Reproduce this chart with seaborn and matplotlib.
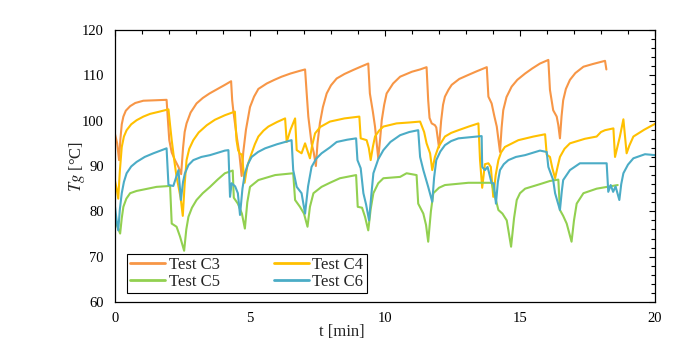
import pandas as pd
import seaborn as sns
import matplotlib.pyplot as plt
from matplotlib.ticker import MultipleLocator

# (t [min], Tg [°C])
c3_pts = [(0, 97), (0.08, 95), (0.15, 91.3), (0.2, 96), (0.25, 99.2), (0.31, 100.9), (0.4, 102.2),
          (0.56, 103.2), (0.75, 103.9), (1.05, 104.4), (1.5, 104.5), (1.91, 104.6), (1.95, 101),
          (2.01, 95.7), (2.1, 93), (2.22, 91.3), (2.35, 89.8), (2.45, 88.2), (2.52, 94), (2.58, 97.5),
          (2.65, 99.4), (2.8, 101.8), (3.02, 103.8), (3.25, 105), (3.5, 106), (3.8, 107), (4.07, 107.9),
          (4.3, 108.7), (4.34, 104.5), (4.38, 102.3), (4.5, 96.8), (4.6, 93), (4.69, 87.8), (4.75, 93),
          (4.85, 98), (5.0, 103), (5.15, 105.3), (5.31, 107), (5.62, 108.2), (5.9, 109), (6.17, 109.7),
          (6.5, 110.4), (6.85, 111), (7.04, 111.3), (7.1, 106), (7.16, 100.9), (7.28, 95), (7.36, 93),
          (7.44, 90), (7.5, 95), (7.59, 99.5), (7.7, 103), (7.84, 106), (8.0, 107.8), (8.21, 109.3),
          (8.5, 110.3), (8.83, 111.2), (9.1, 111.9), (9.38, 112.6), (9.44, 106), (9.55, 102),
          (9.63, 98.7), (9.75, 91.7), (9.82, 96), (9.88, 100.1), (9.97, 103.5), (10.06, 106),
          (10.3, 108.2), (10.56, 109.7), (11.0, 110.8), (11.3, 111.3), (11.54, 111.8), (11.6, 104.5),
          (11.65, 100.6), (11.73, 99.4), (11.85, 99), (11.9, 98.5), (12.0, 94.1), (12.08, 100),
          (12.15, 103.5), (12.22, 105.3), (12.35, 106.8), (12.47, 107.9), (12.75, 109.2), (13.09, 110.1),
          (13.4, 110.9), (13.77, 111.8), (13.83, 105.3), (13.95, 103.8), (14.05, 101), (14.14, 98.7),
          (14.26, 93.1), (14.32, 98.5), (14.38, 102.3), (14.5, 105.2), (14.69, 107.5), (14.9, 109),
          (15.19, 110.4), (15.45, 111.5), (15.74, 112.6), (16.05, 113.4), (16.11, 106.8), (16.23, 102.3),
          (16.36, 100.9), (16.42, 99), (16.48, 96.1), (16.54, 101), (16.6, 104.5), (16.7, 107),
          (16.85, 109), (17.05, 110.5), (17.35, 111.9), (17.7, 112.5), (18.15, 113.2), (18.2, 111.3)]

c4_pts = [(0, 86.7), (0.06, 85), (0.12, 82.8), (0.18, 89), (0.25, 94.2), (0.33, 96.5), (0.43, 97.9),
          (0.6, 99.2), (0.8, 100.1), (1.05, 100.9), (1.3, 101.5), (1.65, 102), (1.98, 102.5), (2.04, 99),
          (2.1, 95.7), (2.2, 91), (2.28, 87.6), (2.35, 85.5), (2.43, 83), (2.51, 79.0), (2.58, 86),
          (2.65, 91.3), (2.75, 93.8), (2.9, 95.7), (3.1, 97.4), (3.4, 99), (3.7, 100.2), (4.07, 101.2),
          (4.44, 102), (4.5, 95.7), (4.56, 93.5), (4.63, 92.6), (4.7, 92.6), (4.8, 86.3), (4.9, 90),
          (5.06, 92.8), (5.18, 94.8), (5.31, 96.5), (5.5, 97.8), (5.68, 98.7), (6.0, 99.7), (6.3, 100.5),
          (6.36, 95.3), (6.5, 98), (6.67, 100.5), (6.73, 93.5), (6.91, 92.8), (7.04, 95), (7.22, 91.7),
          (7.3, 94.5), (7.41, 97.2), (7.6, 98.6), (7.96, 99.8), (8.5, 100.5), (9.05, 100.9), (9.1, 96.1),
          (9.32, 95.7), (9.4, 94), (9.47, 91.3), (9.55, 94.2), (9.63, 96.5), (9.78, 97.8), (9.94, 98.7),
          (10.43, 99.4), (10.9, 99.6), (11.3, 99.8), (11.45, 97.5), (11.54, 95), (11.67, 92.8),
          (11.75, 89.1), (11.85, 92), (11.98, 94.2), (12.22, 96.5), (12.45, 97.3), (12.72, 97.9),
          (13.1, 98.7), (13.46, 99.4), (13.52, 91.3), (13.6, 85.2), (13.7, 90.4), (13.83, 90.6),
          (13.92, 89.8), (14.01, 83.2), (14.1, 88), (14.2, 91.3), (14.3, 93), (14.44, 94.2),
          (14.94, 95.7), (15.5, 96.5), (15.93, 97), (15.99, 92.5), (16.11, 92), (16.2, 89.5),
          (16.3, 87.3), (16.4, 90), (16.48, 92), (16.65, 93.8), (16.85, 95), (17.4, 96), (17.84, 96.5),
          (18.0, 97.5), (18.15, 97.9), (18.46, 98.3), (18.52, 92), (18.7, 96.5), (18.83, 100.3),
          (18.95, 92.8), (19.05, 94.5), (19.2, 96.5), (19.6, 98), (20.0, 99.3)]

c5_pts = [(0, 78), (0.1, 76.5), (0.19, 75.1), (0.25, 78.5), (0.31, 81), (0.42, 82.8), (0.56, 84),
          (0.8, 84.5), (1.05, 84.8), (1.54, 85.4), (2.04, 85.6), (2.1, 77.3), (2.28, 76.6), (2.41, 74.4),
          (2.56, 71.3), (2.64, 76), (2.72, 78.8), (2.85, 80.8), (3.02, 82.5), (3.25, 84), (3.52, 85.4),
          (3.8, 87), (4.07, 88.4), (4.36, 89), (4.4, 83), (4.55, 81.7), (4.7, 79.5), (4.81, 76.2),
          (4.9, 82), (5.0, 85.4), (5.31, 86.9), (5.93, 88), (6.6, 88.4), (6.67, 82.5), (6.85, 81),
          (7.0, 79.5), (7.13, 76.6), (7.22, 81), (7.35, 84), (7.65, 85.4), (7.96, 86.3), (8.33, 87.3),
          (8.93, 88), (8.99, 81), (9.15, 80.8), (9.26, 78.8), (9.38, 75.8), (9.47, 80.5), (9.57, 84),
          (9.75, 86.2), (9.94, 87.3), (10.56, 87.6), (10.8, 88.4), (11.17, 88), (11.23, 81.7),
          (11.42, 79.5), (11.52, 77), (11.6, 73.3), (11.7, 80), (11.79, 84), (12.0, 85.2), (12.22, 85.8),
          (13.09, 86.3), (13.95, 86.3), (14.2, 80.3), (14.35, 79.5), (14.51, 78), (14.67, 72.2),
          (14.78, 78.5), (14.88, 82.5), (15.0, 84), (15.19, 85), (15.74, 86), (16.11, 86.7), (16.42, 87),
          (16.48, 80.3), (16.6, 79), (16.73, 77.3), (16.91, 73.3), (17.0, 78), (17.1, 81.7), (17.35, 84),
          (17.84, 85), (18.62, 85.8)]

c6_pts = [(0, 81), (0.06, 78), (0.12, 75.8), (0.18, 80.5), (0.25, 84), (0.33, 86.5), (0.43, 88.4),
          (0.6, 89.9), (0.8, 90.9), (1.1, 92), (1.42, 92.8), (1.91, 93.9), (1.98, 85.8), (2.16, 85.6),
          (2.35, 89.1), (2.44, 82.5), (2.52, 86.5), (2.59, 88.4), (2.72, 90.2), (2.9, 91.3), (3.2, 92),
          (3.52, 92.4), (4.07, 93.4), (4.2, 93.5), (4.26, 83.2), (4.32, 86.2), (4.45, 85.5), (4.55, 84),
          (4.63, 79.2), (4.72, 85), (4.81, 88.4), (4.93, 90.5), (5.06, 92), (5.3, 93.1), (5.56, 93.9),
          (6.0, 94.8), (6.54, 95.7), (6.6, 89.1), (6.73, 85.4), (6.91, 84), (7.04, 79.5), (7.15, 85.5),
          (7.28, 89.8), (7.45, 91.6), (7.65, 92.8), (7.96, 94.1), (8.21, 95.3), (8.6, 95.8), (8.93, 96.1),
          (8.98, 91.3), (9.1, 89.5), (9.2, 84), (9.3, 81.5), (9.41, 78), (9.5, 84), (9.57, 88.4),
          (9.75, 91.5), (9.94, 93.5), (10.2, 95.3), (10.56, 96.8), (10.9, 97.5), (11.23, 97.9),
          (11.3, 92), (11.42, 89.1), (11.6, 85.4), (11.75, 82.1), (11.82, 87.5), (11.9, 91.3),
          (12.05, 93.2), (12.22, 94.6), (12.45, 95.5), (12.72, 96.1), (13.58, 96.6), (13.6, 89.8),
          (13.7, 89.1), (13.8, 89.8), (13.95, 86.2), (14.03, 86.2), (14.11, 81.7), (14.18, 86.5),
          (14.26, 89.1), (14.4, 90.4), (14.57, 91.3), (14.85, 92), (15.19, 92.4), (15.74, 93.4),
          (15.99, 93.1), (16.05, 89.8), (16.23, 86.9), (16.3, 84), (16.48, 80.3), (16.55, 84.5),
          (16.6, 86.9), (16.85, 89.1), (17.22, 90.6), (18.21, 90.6), (18.27, 84.3), (18.36, 85.8),
          (18.45, 84.3), (18.54, 85.5), (18.68, 82.5), (18.75, 86), (18.83, 88.4), (19.0, 90.3),
          (19.2, 91.7), (19.63, 92.6), (20.0, 92.4)]

labels = ["Test C3", "Test C4", "Test C5", "Test C6"]
colors = ["#F79646", "#FFC000", "#92D050", "#4BACC6"]

frames = []
for name, pts in zip(labels, [c3_pts, c4_pts, c5_pts, c6_pts]):
    df = pd.DataFrame(pts, columns=["t", "Tg"])
    df["test"] = name
    frames.append(df)
data = pd.concat(frames, ignore_index=True)

sns.set_theme(style="white")
plt.rcParams['font.family'] = ['Liberation Serif', 'DejaVu Serif']
plt.rcParams['mathtext.fontset'] = 'stix'

fig = plt.figure(figsize=(6.92, 3.58), dpi=100)
ax = fig.add_axes([0.1662, 0.1564, 0.7803, 0.7598])

sns.lineplot(data=data, x="t", y="Tg", hue="test", palette=colors, sort=False,
             estimator=None, linewidth=1.5, ax=ax)

ax.set_xlim(0, 20)
ax.set_ylim(60, 120)
ax.xaxis.set_major_locator(MultipleLocator(5))
ax.xaxis.set_minor_locator(MultipleLocator(1))
ax.yaxis.set_major_locator(MultipleLocator(10))
ax.yaxis.set_minor_locator(MultipleLocator(2))
ax.tick_params(which='both', direction='in', top=True, right=True, colors='black',
               labelsize=10.5, width=0.8)
ax.tick_params(which='major', length=4)
ax.tick_params(which='minor', length=3)
ax.tick_params(axis='x', pad=7)
ax.tick_params(axis='y', pad=8)
for s in ax.spines.values():
    s.set_color('black')
    s.set_linewidth(0.9)

ax.set_xlabel('t [min]', fontsize=12)
ax.xaxis.set_label_coords(0.42, -0.08)
ax.set_ylabel(r'$Tg$ [°C]', fontsize=12)
ax.yaxis.set_label_coords(-0.052, 0.5)

# row-wise legend order: C3 C4 / C5 C6
handles, names = ax.get_legend_handles_labels()
order = [0, 2, 1, 3]
leg = ax.legend([handles[i] for i in order], [names[i] for i in order],
                loc='lower left', bbox_to_anchor=(0.022, 0.033, 0.444, 0.132), mode='expand',
                ncol=2, borderaxespad=0, fancybox=False, edgecolor='black', fontsize=12,
                handlelength=2.1, handletextpad=0.2, borderpad=0.2, labelspacing=0.05,
                columnspacing=1.0, framealpha=1)
leg.get_frame().set_linewidth(0.8)
for line in leg.get_lines():
    line.set_linewidth(2)

plt.savefig('out.png', dpi=100)
